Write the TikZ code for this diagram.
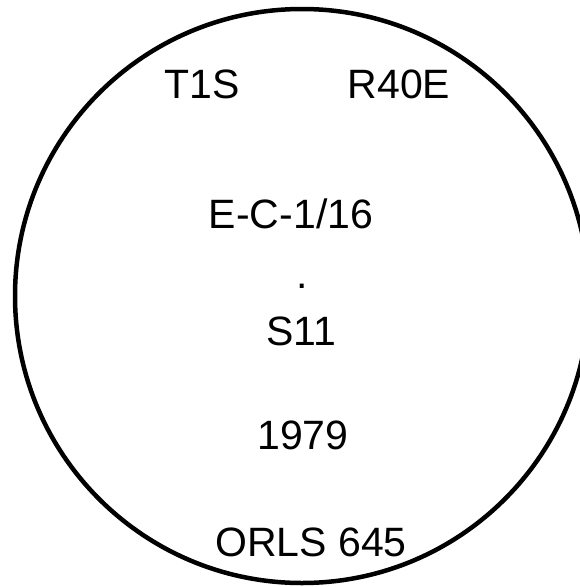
\documentclass[tikz,border=0pt]{standalone}
\usepackage{fontspec}
\setmainfont{Liberation Sans}
\begin{document}
\begin{tikzpicture}[x=1pt,y=-1pt,
  lbl/.style={anchor=base,inner sep=0pt,font=\fontsize{41}{41}\selectfont}]
\useasboundingbox (0,0) rectangle (580,587);
\begin{scope}
\clip (0,0) rectangle (580,587);
\draw[line width=4.5pt] (302,296) circle[radius=287];
\end{scope}
\node[lbl] (t1s) at (202,98) {T1S};
\node[lbl] (r40e) at (399,98) {R40E};
\node[lbl] (ec) at (291,228) {E-C-1/16};
\node[lbl] (dot) at (302,288) {.};
\node[lbl] (s11) at (301,345) {S11};
\node[lbl] (yr) at (303,449) {1979};
\node[lbl] (orls) at (311,556) {ORLS 645};
\end{tikzpicture}
\end{document}
